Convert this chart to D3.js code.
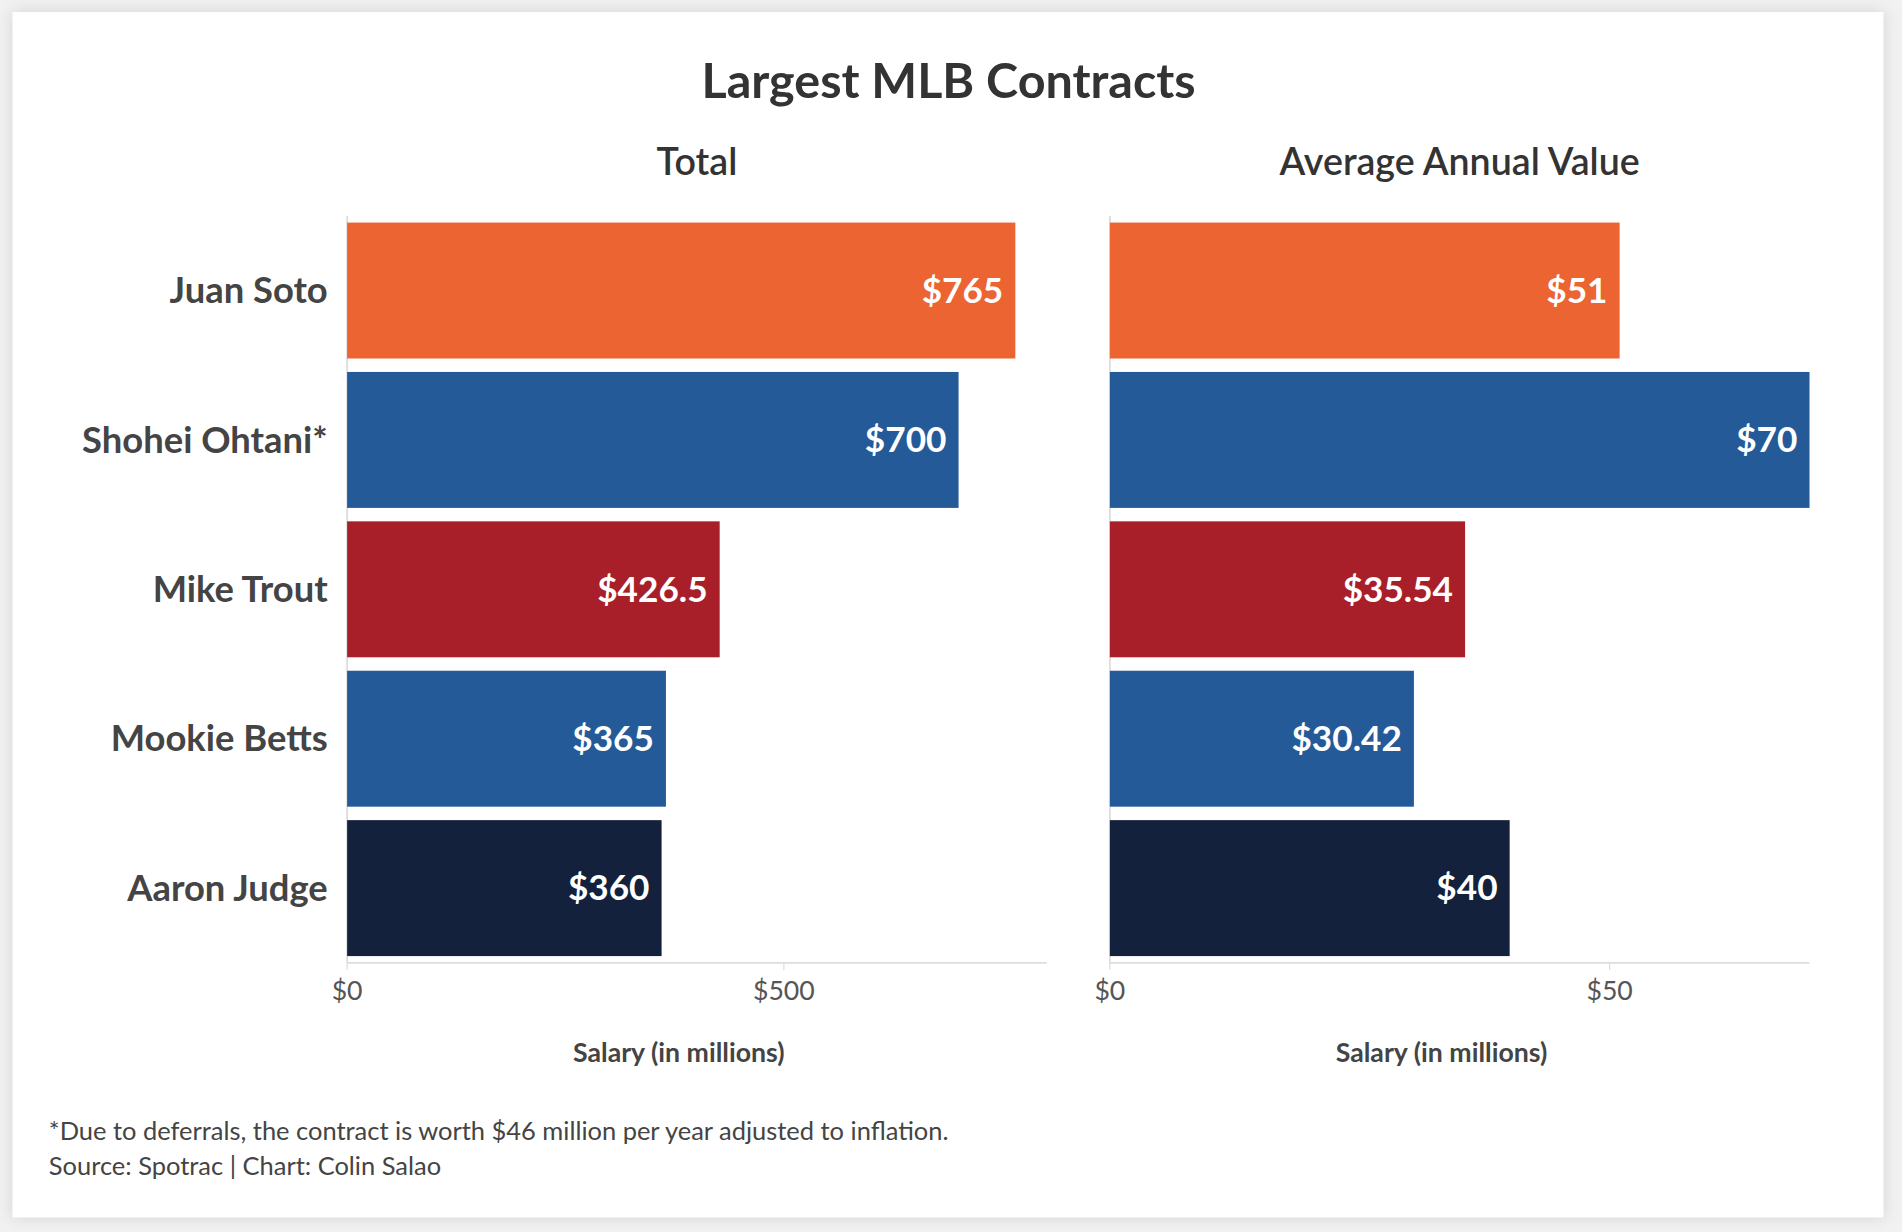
<!DOCTYPE html>
<html><head><meta charset="utf-8">
<script src="https://cdn.jsdelivr.net/npm/d3@7"></script>
<style>
body{margin:0;background:#f1f1f1;font-family:Lato,"Open Sans",sans-serif;}
svg{display:block}
</style></head>
<body><div id="chart"></div>
<script>
(function(d3){
    // contratos (milhoes)
    var data = [
        {name:"Juan Soto", total:765, aav:51, color:"#EB6431", lt:"$765", la:"$51"},
        {name:"Shohei Ohtani*", total:700, aav:70, color:"#255A99", lt:"$700", la:"$70"},
        {name:"Mike Trout", total:426.5, aav:35.54, color:"#A91F29", lt:"$426.5", la:"$35.54"},
        {name:"Mookie Betts", total:365, aav:30.42, color:"#255A99", lt:"$365", la:"$30.42"},
        {name:"Aaron Judge", total:360, aav:40, color:"#13213D", lt:"$360", la:"$40"}
    ];

    var svg = d3.select("#chart").append("svg")
        .attr("width",1902).attr("height",1232)
        .attr("viewBox","0 0 1568 1016");

    svg.append("rect").attr("x",10).attr("y",10).attr("width",1543).attr("height",994)
        .attr("fill","#fff").style("filter","drop-shadow(0 0 6px rgba(0,0,0,0.12))");

    svg.append("text").attr("x",782).attr("y",81).attr("text-anchor","middle")
        .attr("font-size",40).attr("font-weight",700).attr("fill","#333").text("Largest MLB Contracts");

    var y = d3.scaleBand().domain(data.map(function(d){return d.name;}))
        .range([178,794]).paddingInner(0.09).paddingOuter(0.045);

    var panels = [
        {key:"total", lab:"lt", title:"Total", x0:286, x1:863, max:801, ticks:[0,500]},
        {key:"aav", lab:"la", title:"Average Annual Value", x0:915, x1:1492, max:70, ticks:[0,50]}
    ];

    panels.forEach(function(p){
        var x = d3.scaleLinear().domain([0,p.max]).range([p.x0,p.x1]);
        var g = svg.append("g");
        g.append("text").attr("x",(p.x0+p.x1)/2).attr("y",144).attr("text-anchor","middle")
            .attr("font-size",31).attr("font-weight",600).attr("fill","#333").text(p.title);

        g.append("line").attr("x1",p.x0).attr("x2",p.x1).attr("y1",794).attr("y2",794)
            .attr("stroke","#ddd").attr("stroke-width",1.5);
        g.append("line").attr("x1",p.x0).attr("x2",p.x0).attr("y1",178).attr("y2",794)
            .attr("stroke","#ddd").attr("stroke-width",1.5);

        g.selectAll(".bar").data(data).enter().append("rect")
            .attr("x",x(0)).attr("y",function(d){return y(d.name);})
            .attr("width",function(d){return x(d[p.key])-x(0);})
            .attr("height",y.bandwidth()).attr("fill",function(d){return d.color;});

        g.selectAll(".lbl").data(data).enter().append("text")
            .attr("x",function(d){return x(d[p.key])-10;})
            .attr("y",function(d){return y(d.name)+y.bandwidth()/2;})
            .attr("dy","0.35em").attr("text-anchor","end")
            .attr("font-size",29).attr("font-weight",700).attr("fill","#fff")
            .text(function(d){return d[p.lab];});

        g.selectAll(".tick").data(p.ticks).enter().append("text")
            .attr("x",function(d){return x(d);}).attr("y",825).attr("text-anchor","middle")
            .attr("font-size",22).attr("fill","#555").text(function(d){return "$"+d;});
        g.selectAll(".tk").data(p.ticks).enter().append("line")
            .attr("x1",function(d){return x(d);}).attr("x2",function(d){return x(d);})
            .attr("y1",794).attr("y2",800).attr("stroke","#ddd");

        g.append("text").attr("x",(p.x0+p.x1)/2-15).attr("y",876).attr("text-anchor","middle")
            .attr("font-size",22).attr("font-weight",700).attr("fill","#444").text("Salary (in millions)");
    });

    svg.selectAll(".name").data(data).enter().append("text")
        .attr("x",270).attr("y",function(d){return y(d.name)+y.bandwidth()/2;})
        .attr("dy","0.35em").attr("text-anchor","end")
        .attr("font-size",30).attr("font-weight",700).attr("fill","#444")
        .text(function(d){return d.name;});

    svg.append("text").attr("x",40).attr("y",940).attr("font-size",21).attr("fill","#444")
        .text("*Due to deferrals, the contract is worth $46 million per year adjusted to inflation.");
    svg.append("text").attr("x",40).attr("y",969).attr("font-size",21).attr("fill","#444")
        .text("Source: Spotrac | Chart: Colin Salao");
})(d3);
</script>
</body></html>
